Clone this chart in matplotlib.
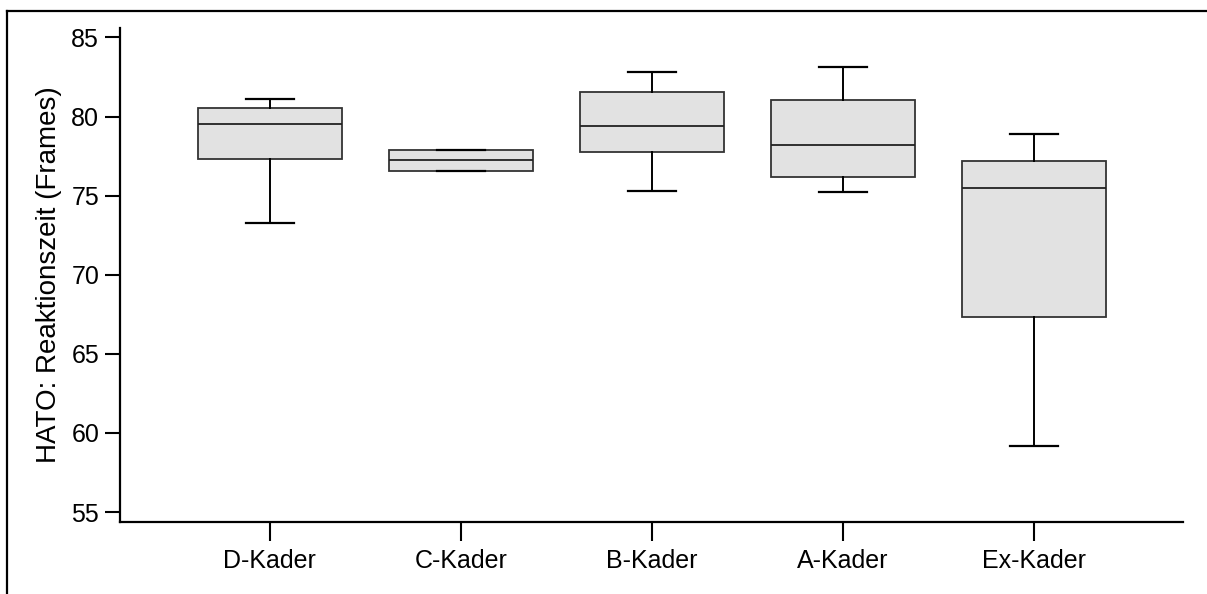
import matplotlib.pyplot as plt
from matplotlib.lines import Line2D

plt.rcParams['font.family'] = ['Liberation Sans', 'DejaVu Sans']

# Kennwerte der Reaktionszeiten je Kader
kader = ['D-Kader', 'C-Kader', 'B-Kader', 'A-Kader', 'Ex-Kader']
whisker_low = [73.3, 76.58, 75.32, 75.25, 59.2]
q1 = [77.34, 76.58, 77.78, 76.18, 67.34]
median = [79.51, 77.24, 79.39, 78.2, 75.46]
q3 = [80.57, 77.87, 81.54, 81.06, 77.2]
whisker_high = [81.14, 77.87, 82.83, 83.16, 78.92]
y_ticks = [55, 60, 65, 70, 75, 80, 85]

stats = []
for name, lo, a, m, b, hi in zip(kader, whisker_low, q1, median, q3, whisker_high):
    stats.append({'label': name, 'whislo': lo, 'q1': a, 'med': m,
                  'q3': b, 'whishi': hi, 'fliers': []})

fig = plt.figure(figsize=(12.07, 5.94), dpi=100)
ax = fig.add_axes([0.0994, 0.1212, 0.8806, 0.8317])

ax.bxp(stats, positions=range(1, 6), widths=0.75, patch_artist=True,
       showfliers=False,
       boxprops=dict(facecolor='#e2e2e2', edgecolor='#333333', linewidth=1.3),
       medianprops=dict(color='#222222', linewidth=1.3),
       whiskerprops=dict(color='black', linewidth=1.4),
       capprops=dict(color='black', linewidth=1.6),
       capwidths=0.25)

ax.set_xlim(0.215, 5.78)
ax.set_ylim(54.37, 85.6)
ax.set_yticks(y_ticks)
ax.set_xticks(range(1, 6))
ax.set_xticklabels(kader)

for side in ['top', 'right']:
    ax.spines[side].set_visible(False)
for side in ['left', 'bottom']:
    ax.spines[side].set_linewidth(1.6)

ax.tick_params(axis='y', length=11, width=1.5, labelsize=18, pad=4)
ax.tick_params(axis='x', length=13.5, width=1.5, labelsize=18, pad=6)
ax.set_ylabel('HATO: Reaktionszeit (Frames)', fontsize=20)
ax.yaxis.set_label_coords(-0.055, 0.5)

# Rahmen oben und links
fig.add_artist(Line2D([0.0058, 0.0058], [0.0, 0.9815], transform=fig.transFigure,
                      color='black', linewidth=1.6))
fig.add_artist(Line2D([0.0058, 1.0], [0.9815, 0.9815], transform=fig.transFigure,
                      color='black', linewidth=1.6))

fig.savefig('out.png', dpi=100)
